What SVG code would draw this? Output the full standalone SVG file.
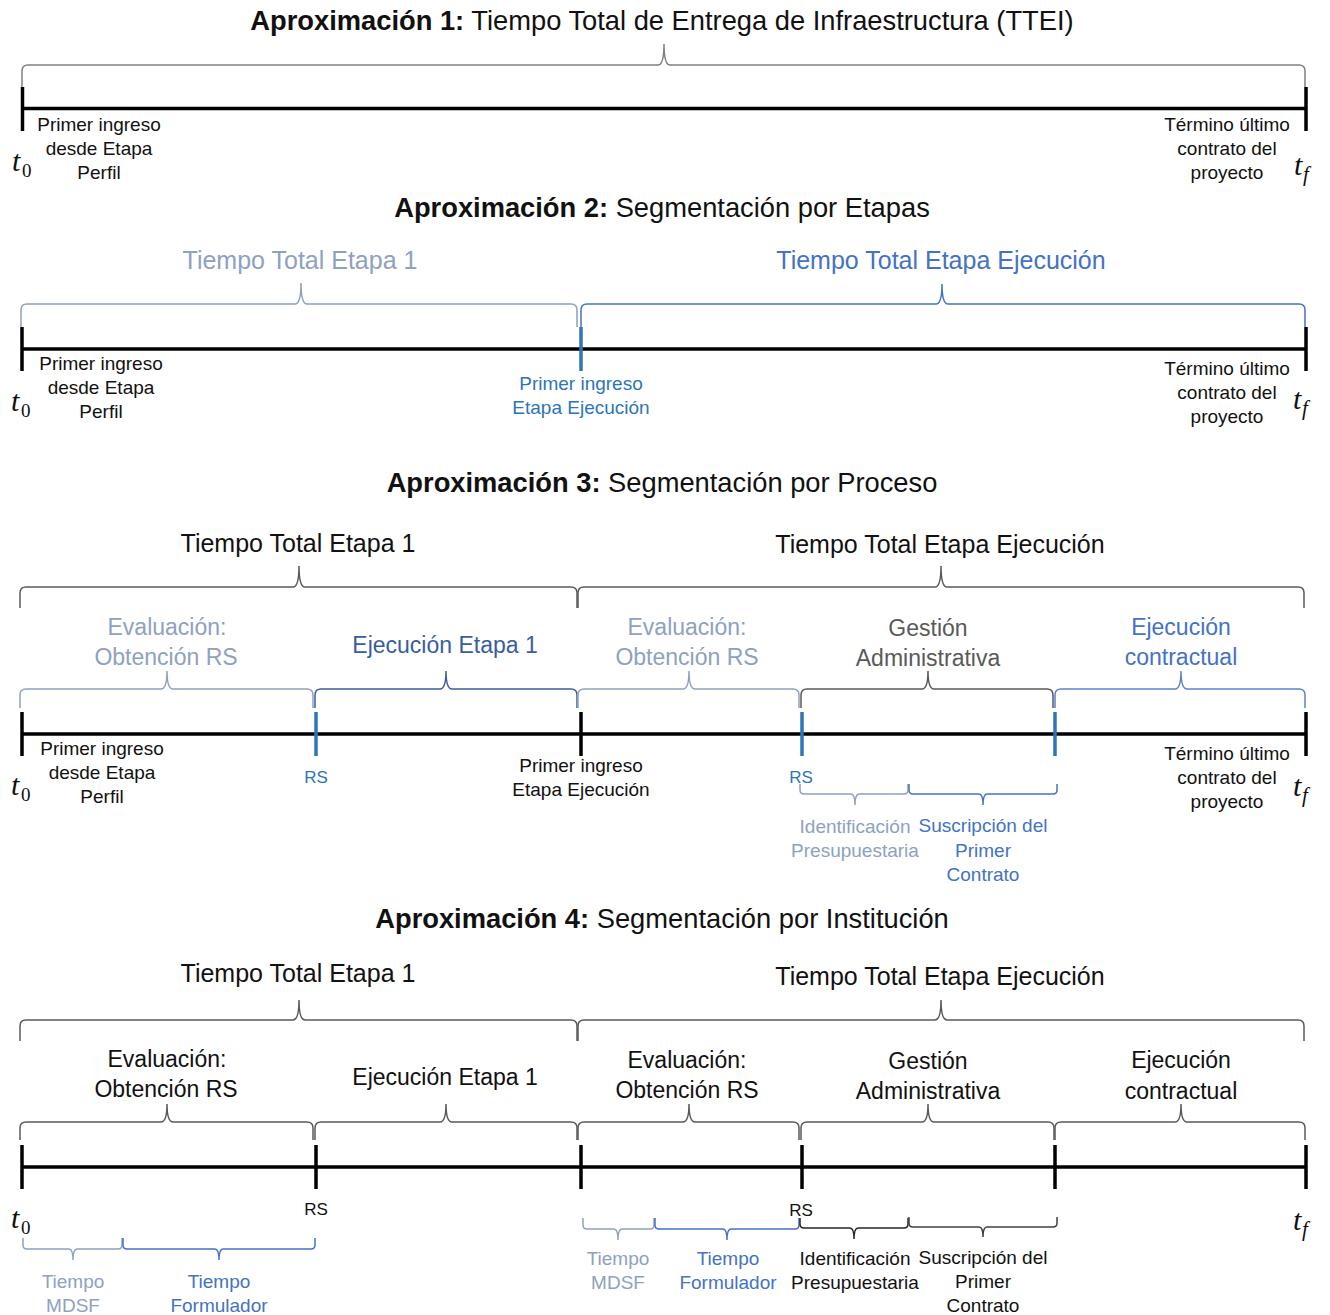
<svg xmlns="http://www.w3.org/2000/svg" width="1330" height="1315" viewBox="0 0 1330 1315">
<style>
text{font-family:"Liberation Sans",Arial,sans-serif;text-anchor:middle;fill:#111}
.ttl{font-size:27.3px}
.b{font-weight:bold}
.l1{font-size:25px}
.l2{font-size:23px}
.s{font-size:19px}
.rs{font-size:17px}
.mi{font-family:"Liberation Serif","Times New Roman",serif;font-style:italic;text-anchor:start;font-size:30px}
.sub{font-family:"Liberation Serif","Times New Roman",serif;text-anchor:start;font-size:19px}
.subi{font-family:"Liberation Serif","Times New Roman",serif;font-style:italic;text-anchor:start;font-size:21px}
.light{fill:#8EA1BF}.blue{fill:#4472C4}.dblue{fill:#3A5DA0}.tblue{fill:#2E75B6}.gray{fill:#595959}
.br{fill:none;stroke-width:1.5}
.bL{stroke:#8EA1BF}.bB{stroke:#4472C4}.bD{stroke:#3A5DA0}.bC{stroke:#5B83C9}.bG{stroke:#595959}.bM{stroke:#808080}.bK{stroke:#262626}.bK2{stroke:#404040}
.axis{stroke:#000;stroke-width:3.5}
.tk{stroke:#000;stroke-width:3.5}
.tkb{stroke:#2E75B6;stroke-width:3.5}
</style>
<rect width="1330" height="1315" fill="#fff"/>

<!-- ===== Aproximación 1 ===== -->
<g id="aprox1">
  <text class="ttl" x="662" y="30"><tspan class="b">Aproximación 1:</tspan> Tiempo Total de Entrega de Infraestructura (TTEI)</text>
  <g id="a1-connectors">
    <path class="br bM" d="M22,87 L22,71 Q22,65 28,65 L658,65 Q664,65 664,44 Q664,65 670,65 L1299,65 Q1305,65 1305,71 L1305,87"/>
    <line class="axis" x1="22" y1="108.5" x2="1306" y2="108.5"/>
    <line class="tk" x1="22.5" y1="87" x2="22.5" y2="131"/>
    <line class="tk" x1="1306" y1="87" x2="1306" y2="131"/>
  </g>
  <g id="a1-start">
    <text class="s" x="99" y="131">Primer ingreso</text>
    <text class="s" x="99" y="155">desde Etapa</text>
    <text class="s" x="99" y="179">Perfil</text>
    <text class="mi" x="12" y="171">t</text><text class="sub" x="22" y="177">0</text>
  </g>
  <g id="a1-end">
    <text class="s" x="1227" y="131">Término último</text>
    <text class="s" x="1227" y="155">contrato del</text>
    <text class="s" x="1227" y="179">proyecto</text>
    <text class="mi" x="1294" y="175">t</text><text class="subi" x="1303" y="181">f</text>
  </g>
</g>

<!-- ===== Aproximación 2 ===== -->
<g id="aprox2">
  <text class="ttl" x="662" y="217"><tspan class="b">Aproximación 2:</tspan> Segmentación por Etapas</text>
  <g id="a2-connectors">
    <path class="br bL" d="M21,327 L21,310 Q21,304 27,304 L295,304 Q301,304 301,283 Q301,304 307,304 L571,304 Q577,304 577,310 L577,327"/>
    <path class="br bB" d="M581,327 L581,310 Q581,304 587,304 L936,304 Q942,304 942,284 Q942,304 948,304 L1299,304 Q1305,304 1305,310 L1305,327"/>
    <line class="axis" x1="22" y1="349" x2="1306" y2="349"/>
    <line class="tk" x1="22" y1="327" x2="22" y2="371"/>
    <line class="tkb" x1="581" y1="327" x2="581" y2="371"/>
    <line class="tk" x1="1306" y1="327" x2="1306" y2="371"/>
  </g>
  <g id="a2-etapa1"><text class="l1 light" x="300" y="269">Tiempo Total Etapa 1</text></g>
  <g id="a2-ejec"><text class="l1 blue" x="941" y="269">Tiempo Total Etapa Ejecución</text></g>
  <g id="a2-start">
    <text class="s" x="101" y="370">Primer ingreso</text>
    <text class="s" x="101" y="394">desde Etapa</text>
    <text class="s" x="101" y="418">Perfil</text>
    <text class="mi" x="11" y="411">t</text><text class="sub" x="21" y="417">0</text>
  </g>
  <g id="a2-mid">
    <text class="s tblue" x="581" y="390">Primer ingreso</text>
    <text class="s tblue" x="581" y="414">Etapa Ejecución</text>
  </g>
  <g id="a2-end">
    <text class="s" x="1227" y="375">Término último</text>
    <text class="s" x="1227" y="399">contrato del</text>
    <text class="s" x="1227" y="423">proyecto</text>
    <text class="mi" x="1293" y="409">t</text><text class="subi" x="1302" y="415">f</text>
  </g>
</g>

<!-- ===== Aproximación 3 ===== -->
<g id="aprox3">
  <text class="ttl" x="662" y="492"><tspan class="b">Aproximación 3:</tspan> Segmentación por Proceso</text>
  <g id="a3-connectors">
    <path class="br bG" d="M20,608 L20,593 Q20,587 26,587 L293,587 Q299,587 299,566 Q299,587 305,587 L571,587 Q577,587 577,593 L577,608"/>
    <path class="br bG" d="M578,608 L578,593 Q578,587 584,587 L935,587 Q941,587 941,566 Q941,587 947,587 L1298,587 Q1304,587 1304,593 L1304,608"/>
    <path class="br bL" d="M20,708 L20,695 Q20,689 26,689 L161,689 Q167,689 167,671 Q167,689 173,689 L307,689 Q313,689 313,695 L313,708"/>
    <path class="br bD" d="M315,708 L315,695 Q315,689 321,689 L440,689 Q446,689 446,671 Q446,689 452,689 L571,689 Q577,689 577,695 L577,708"/>
    <path class="br bL" d="M578,708 L578,695 Q578,689 584,689 L683,689 Q689,689 689,671 Q689,689 695,689 L793,689 Q799,689 799,695 L799,708"/>
    <path class="br bG" d="M801,708 L801,695 Q801,689 807,689 L922,689 Q928,689 928,671 Q928,689 934,689 L1047,689 Q1053,689 1053,695 L1053,708"/>
    <path class="br bC" d="M1055,708 L1055,695 Q1055,689 1061,689 L1175,689 Q1181,689 1181,671 Q1181,689 1187,689 L1299,689 Q1305,689 1305,695 L1305,708"/>
    <path class="br bL" d="M800,784 L800,790 Q800,794 804,794 L851,794 Q855,794 855,805 Q855,794 859,794 L904,794 Q908,794 908,790 L908,784"/>
    <path class="br bB" d="M909,784 L909,790 Q909,794 913,794 L979,794 Q983,794 983,805 Q983,794 987,794 L1053,794 Q1057,794 1057,790 L1057,784"/>
    <line class="axis" x1="22" y1="734" x2="1306" y2="734"/>
    <line class="tk" x1="22" y1="712" x2="22" y2="756"/>
    <line class="tkb" x1="316" y1="712" x2="316" y2="756"/>
    <line class="tk" x1="581" y1="712" x2="581" y2="756"/>
    <line class="tkb" x1="802" y1="712" x2="802" y2="756"/>
    <line class="tkb" x1="1055" y1="712" x2="1055" y2="756"/>
    <line class="tk" x1="1306" y1="712" x2="1306" y2="756"/>
  </g>
  <g id="a3-etapa1"><text class="l1" x="298" y="552">Tiempo Total Etapa 1</text></g>
  <g id="a3-ejec"><text class="l1" x="940" y="553">Tiempo Total Etapa Ejecución</text></g>
  <g id="a3-eval1"><text class="l2 light" x="167" y="635">Evaluación:</text><text class="l2 light" x="166" y="665">Obtención RS</text></g>
  <g id="a3-ejecE1"><text class="l2 dblue" x="445" y="653">Ejecución Etapa 1</text></g>
  <g id="a3-eval2"><text class="l2 light" x="687" y="635">Evaluación:</text><text class="l2 light" x="687" y="665">Obtención RS</text></g>
  <g id="a3-gestion"><text class="l2 gray" x="928" y="636">Gestión</text><text class="l2 gray" x="928" y="666">Administrativa</text></g>
  <g id="a3-contrato"><text class="l2 blue" x="1181" y="635">Ejecución</text><text class="l2 blue" x="1181" y="665">contractual</text></g>
  <g id="a3-start">
    <text class="s" x="102" y="755">Primer ingreso</text>
    <text class="s" x="102" y="779">desde Etapa</text>
    <text class="s" x="102" y="803">Perfil</text>
    <text class="mi" x="11" y="795">t</text><text class="sub" x="21" y="801">0</text>
  </g>
  <g id="a3-rs1"><text class="rs tblue" x="316" y="783">RS</text></g>
  <g id="a3-mid">
    <text class="s" x="581" y="772">Primer ingreso</text>
    <text class="s" x="581" y="796">Etapa Ejecución</text>
  </g>
  <g id="a3-rs2"><text class="rs tblue" x="801" y="783">RS</text></g>
  <g id="a3-ident"><text class="s light" x="855" y="833">Identificación</text><text class="s light" x="855" y="857">Presupuestaria</text></g>
  <g id="a3-suscr"><text class="s blue" x="983" y="832">Suscripción del</text><text class="s blue" x="983" y="857">Primer</text><text class="s blue" x="983" y="881">Contrato</text></g>
  <g id="a3-end">
    <text class="s" x="1227" y="760">Término último</text>
    <text class="s" x="1227" y="784">contrato del</text>
    <text class="s" x="1227" y="808">proyecto</text>
    <text class="mi" x="1293" y="796">t</text><text class="subi" x="1302" y="802">f</text>
  </g>
</g>

<!-- ===== Aproximación 4 ===== -->
<g id="aprox4">
  <text class="ttl" x="662" y="928"><tspan class="b">Aproximación 4:</tspan> Segmentación por Institución</text>
  <g id="a4-connectors">
    <path class="br bG" d="M20,1041 L20,1026 Q20,1020 26,1020 L293,1020 Q299,1020 299,1000 Q299,1020 305,1020 L571,1020 Q577,1020 577,1026 L577,1041"/>
    <path class="br bG" d="M578,1041 L578,1026 Q578,1020 584,1020 L935,1020 Q941,1020 941,1000 Q941,1020 947,1020 L1298,1020 Q1304,1020 1304,1026 L1304,1041"/>
    <path class="br bG" d="M20,1140 L20,1128 Q20,1122 26,1122 L161,1122 Q167,1122 167,1104 Q167,1122 173,1122 L307,1122 Q313,1122 313,1128 L313,1140"/>
    <path class="br bG" d="M315,1140 L315,1128 Q315,1122 321,1122 L440,1122 Q446,1122 446,1104 Q446,1122 452,1122 L571,1122 Q577,1122 577,1128 L577,1140"/>
    <path class="br bG" d="M578,1140 L578,1128 Q578,1122 584,1122 L683,1122 Q689,1122 689,1104 Q689,1122 695,1122 L793,1122 Q799,1122 799,1128 L799,1140"/>
    <path class="br bG" d="M801,1140 L801,1128 Q801,1122 807,1122 L922,1122 Q928,1122 928,1104 Q928,1122 934,1122 L1048,1122 Q1054,1122 1054,1128 L1054,1140"/>
    <path class="br bG" d="M1055,1140 L1055,1128 Q1055,1122 1061,1122 L1175,1122 Q1181,1122 1181,1104 Q1181,1122 1187,1122 L1299,1122 Q1305,1122 1305,1128 L1305,1140"/>
    <path class="br bL" d="M23,1238 L23,1245 Q23,1249 27,1249 L69,1249 Q73,1249 73,1260 Q73,1249 77,1249 L118,1249 Q122,1249 122,1245 L122,1238"/>
    <path class="br bB" d="M123,1238 L123,1245 Q123,1249 127,1249 L215,1249 Q219,1249 219,1260 Q219,1249 223,1249 L311,1249 Q315,1249 315,1245 L315,1238"/>
    <path class="br bL" d="M583,1218 L583,1225 Q583,1229 587,1229 L614,1229 Q618,1229 618,1240 Q618,1229 622,1229 L650,1229 Q654,1229 654,1225 L654,1218"/>
    <path class="br bB" d="M655,1218 L655,1225 Q655,1229 659,1229 L723,1229 Q727,1229 727,1240 Q727,1229 731,1229 L795,1229 Q799,1229 799,1225 L799,1218"/>
    <path class="br bK" d="M800,1218 L800,1224 Q800,1228 804,1228 L850,1228 Q854,1228 854,1239 Q854,1228 858,1228 L904,1228 Q908,1228 908,1224 L908,1218"/>
    <path class="br bK2" d="M909,1217 L909,1223 Q909,1227 913,1227 L979,1227 Q983,1227 983,1237 Q983,1227 987,1227 L1053,1227 Q1057,1227 1057,1223 L1057,1217"/>
    <line class="axis" x1="22" y1="1167" x2="1306" y2="1167"/>
    <line class="tk" x1="22" y1="1145" x2="22" y2="1189"/>
    <line class="tk" x1="316" y1="1145" x2="316" y2="1189"/>
    <line class="tk" x1="581" y1="1145" x2="581" y2="1189"/>
    <line class="tk" x1="802" y1="1145" x2="802" y2="1189"/>
    <line class="tk" x1="1055" y1="1145" x2="1055" y2="1189"/>
    <line class="tk" x1="1306" y1="1145" x2="1306" y2="1189"/>
  </g>
  <g id="a4-etapa1"><text class="l1" x="298" y="982">Tiempo Total Etapa 1</text></g>
  <g id="a4-ejec"><text class="l1" x="940" y="985">Tiempo Total Etapa Ejecución</text></g>
  <g id="a4-eval1"><text class="l2" x="167" y="1067">Evaluación:</text><text class="l2" x="166" y="1097">Obtención RS</text></g>
  <g id="a4-ejecE1"><text class="l2" x="445" y="1085">Ejecución Etapa 1</text></g>
  <g id="a4-eval2"><text class="l2" x="687" y="1068">Evaluación:</text><text class="l2" x="687" y="1098">Obtención RS</text></g>
  <g id="a4-gestion"><text class="l2" x="928" y="1069">Gestión</text><text class="l2" x="928" y="1099">Administrativa</text></g>
  <g id="a4-contrato"><text class="l2" x="1181" y="1068">Ejecución</text><text class="l2" x="1181" y="1099">contractual</text></g>
  <g id="a4-start"><text class="mi" x="11" y="1228">t</text><text class="sub" x="21" y="1234">0</text></g>
  <g id="a4-rs1"><text class="rs" x="316" y="1215">RS</text></g>
  <g id="a4-rs2"><text class="rs" x="801" y="1216">RS</text></g>
  <g id="a4-mdsf1"><text class="s light" x="73" y="1288">Tiempo</text><text class="s light" x="73" y="1312">MDSF</text></g>
  <g id="a4-form1"><text class="s blue" x="219" y="1288">Tiempo</text><text class="s blue" x="219" y="1312">Formulador</text></g>
  <g id="a4-mdsf2"><text class="s light" x="618" y="1265">Tiempo</text><text class="s light" x="618" y="1289">MDSF</text></g>
  <g id="a4-form2"><text class="s blue" x="728" y="1265">Tiempo</text><text class="s blue" x="728" y="1289">Formulador</text></g>
  <g id="a4-ident"><text class="s" x="855" y="1265">Identificación</text><text class="s" x="855" y="1289">Presupuestaria</text></g>
  <g id="a4-suscr"><text class="s" x="983" y="1264">Suscripción del</text><text class="s" x="983" y="1288">Primer</text><text class="s" x="983" y="1312">Contrato</text></g>
  <g id="a4-end"><text class="mi" x="1293" y="1230">t</text><text class="subi" x="1302" y="1236">f</text></g>
</g>
</svg>
